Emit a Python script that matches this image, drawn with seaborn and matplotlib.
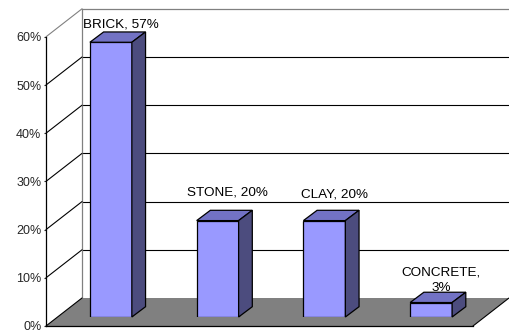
import matplotlib
matplotlib.use('Agg')
import matplotlib.pyplot as plt
import matplotlib.transforms as mtransforms
from matplotlib.patches import Polygon
from matplotlib.lines import Line2D
import seaborn as sns

# ---- data ----
categories = ['BRICK', 'STONE', 'CLAY', 'CONCRETE']
shares = [57, 20, 20, 3]
point_labels = ['BRICK, 57%', 'STONE, 20%', 'CLAY, 20%', 'CONCRETE,\n3%']
y_ticks = [0, 10, 20, 30, 40, 50, 60]
y_tick_labels = ['0%', '10%', '20%', '30%', '40%', '50%', '60%']

# ---- style / layout ----
sns.set_style('white')
plt.rcParams['font.family'] = ['Liberation Sans', 'DejaVu Sans']
W, H = 509, 332
PLOT_W, PLOT_H = 427, 289.2
FRONT = (46, 326)      # image px of front-plane origin
BARPL = (57.5, 317)    # image px of bar-plane origin
BACK = (82, 298)       # image px of back-wall origin
BAR_DEPTH = (13.7, 10.3)
label_dy = [18, 28, 26, 22]
c_front, c_top, c_side = '#9999FF', '#7272C4', '#4C4C7E'
c_floor, c_wall = '#808080', '#808080'
IDT = mtransforms.IdentityTransform()

fig = plt.figure(figsize=(W / 100, H / 100), dpi=100)
fig.patch.set_facecolor('white')


def rect(o):
    return [o[0] / W, (H - o[1]) / H, PLOT_W / W, PLOT_H / H]


# back wall
ax_back = fig.add_axes(rect(BACK), zorder=0)
ax_back.set_facecolor('white')
ax_back.set_xlim(-0.5, 3.5)
ax_back.set_ylim(0, 60)
ax_back.set_yticks(y_ticks[1:-1])
ax_back.set_xticks([])
ax_back.tick_params(axis='y', length=0, labelleft=False)
ax_back.grid(axis='y', color='black', linewidth=0.8)
for s in ['left', 'top']:
    ax_back.spines[s].set_color(c_wall)
    ax_back.spines[s].set_linewidth(0.9)
ax_back.spines['right'].set_visible(False)
ax_back.spines['bottom'].set_visible(False)

# bar plane
ax_bar = fig.add_axes(rect(BARPL), zorder=2)
ax_bar.set_facecolor('none')
sns.barplot(x=categories, y=shares, color=c_front, saturation=1, width=0.393,
            edgecolor='black', linewidth=0.9, ax=ax_bar)
ax_bar.set_xlim(-0.5, 3.5)
ax_bar.set_ylim(0, 60)
ax_bar.axis('off')

# front axes
ax_front = fig.add_axes(rect(FRONT), zorder=3)
ax_front.set_facecolor('none')
ax_front.set_xlim(-0.5, 3.5)
ax_front.set_ylim(0, 60)
ax_front.set_xticks([0.5, 1.5, 2.5])
ax_front.tick_params(axis='x', direction='in', length=3, width=0.8, labelbottom=False)
ax_front.set_yticks(y_ticks)
ax_front.set_yticklabels(y_tick_labels)
ax_front.tick_params(axis='y', direction='out', length=1.8, width=0.8, pad=1.5,
                     labelsize=9, left=True)
for s in ['top', 'right']:
    ax_front.spines[s].set_visible(False)
for s in ['left', 'bottom']:
    ax_front.spines[s].set_color('black')
    ax_front.spines[s].set_linewidth(0.9)

# floor
fl0 = ax_front.transAxes.transform((0, 0))
fr0 = ax_front.transAxes.transform((1, 0))
br0 = ax_back.transAxes.transform((1, 0))
bl0 = ax_back.transAxes.transform((0, 0))
fig.add_artist(Polygon([fl0, fr0, br0, bl0], closed=True, facecolor=c_floor,
                       edgecolor='none', transform=IDT, zorder=1))
fig.add_artist(Line2D([fr0[0], br0[0]], [fr0[1], br0[1]], color='black',
                      linewidth=0.8, transform=IDT, zorder=1))

# side wall diagonals
for v in y_ticks:
    p0 = ax_front.transData.transform((-0.5, v))
    p1 = ax_back.transData.transform((-0.5, v))
    fig.add_artist(Line2D([p0[0], p1[0]], [p0[1], p1[1]],
                          color=c_wall if v == y_ticks[-1] else 'black',
                          linewidth=0.8, transform=IDT, zorder=1))

# bar 3D faces
dx, dy = BAR_DEPTH
for p in list(ax_bar.patches):
    x0, w, h = p.get_x(), p.get_width(), p.get_height()
    (X0, Y0) = ax_bar.transData.transform((x0, 0))
    (X1, Y1) = ax_bar.transData.transform((x0 + w, h))
    top = [(X0, Y1), (X1, Y1), (X1 + dx, Y1 + dy), (X0 + dx, Y1 + dy)]
    side = [(X1, Y0), (X1 + dx, Y0 + dy), (X1 + dx, Y1 + dy), (X1, Y1)]
    ax_bar.add_patch(Polygon(top, closed=True, facecolor=c_top, edgecolor='black',
                             linewidth=0.9, transform=IDT, clip_on=False))
    ax_bar.add_patch(Polygon(side, closed=True, facecolor=c_side, edgecolor='black',
                             linewidth=0.9, transform=IDT, clip_on=False))

# data labels
for i, (lab, v) in enumerate(zip(point_labels, shares)):
    ax_bar.annotate(lab, xy=(i, v), xytext=(10, label_dy[i]), textcoords='offset pixels',
                    ha='center', va='center', fontsize=9.7, color='black',
                    linespacing=1.35, annotation_clip=False, zorder=5)

fig.savefig('out.png', dpi=100)
